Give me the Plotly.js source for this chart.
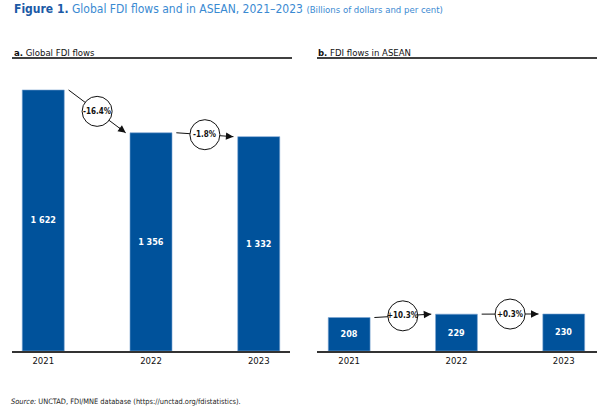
<!DOCTYPE html>
<html>
<head>
<meta charset="utf-8">
<script src="https://cdn.plot.ly/plotly-3.0.1.min.js"></script>
<style>
html,body{margin:0;padding:0;background:#fff;}
#chart{width:605px;height:410px;}
</style>
</head>
<body>
<div id="chart"></div>
<script>
// ---- data ----
var years = ['2021', '2022', '2023'];
var globalFDI = [1622, 1356, 1332];
var aseanFDI = [208, 229, 230];
var globalLabels = ['1 622', '1 356', '1 332'];
var aseanLabels = ['208', '229', '230'];
var globalChange = ['-16.4%', '-1.8%'];
var aseanChange = ['+10.3%', '+0.3%'];

var FONT = '"DejaVu Sans Condensed", "Liberation Sans Narrow", sans-serif';
var BLUE = '#00529b';
var W = 605, H = 410, T = 70, B = 59;
var YMAX = 1746;

function barTrace(vals, labels, xa, ya) {
  return {
    type: 'bar', x: years, y: vals, xaxis: xa, yaxis: ya,
    width: 0.39,
    marker: {color: BLUE, line: {color: '#7ea6d3', width: 0.6}},
    text: labels, textposition: 'inside', insidetextanchor: 'middle',
    textfont: {family: FONT, size: 9, color: '#ffffff', weight: 'bold'},
    hoverinfo: 'skip', showlegend: false, cliponaxis: false
  };
}

var shapes = [], annotations = [];

function addChanges(vals, changes, xr, yr) {
  for (var i = 0; i < changes.length; i++) {
    var x0 = i + 0.235, y0 = vals[i];
    var x1 = i + 1 - 0.235, y1 = vals[i + 1];
    var xm = i + 0.5, ym = (vals[i] + vals[i + 1]) / 2;
    shapes.push({type: 'line', xref: xr, yref: yr, x0: x0, y0: y0, x1: x1, y1: y1,
      line: {color: '#111', width: 1}});
    shapes.push({type: 'circle', xref: xr, yref: yr, xsizemode: 'pixel', ysizemode: 'pixel',
      xanchor: xm, yanchor: ym, x0: -15, x1: 15, y0: -15, y1: 15,
      fillcolor: '#ffffff', line: {color: '#111', width: 1}});
    annotations.push({xref: xr, yref: yr, x: xm, y: ym, text: changes[i], showarrow: false,
      font: {family: FONT, size: 8, color: '#111', weight: 'bold'}});
    var t = 0.86;
    annotations.push({xref: xr, yref: yr, x: x1, y: y1,
      axref: xr, ayref: yr, ax: x0 + (x1 - x0) * t, ay: y0 + (y1 - y0) * t,
      text: '', showarrow: true, arrowhead: 2, arrowsize: 1.5, arrowwidth: 1, arrowcolor: '#111'});
  }
}
addChanges(globalFDI, globalChange, 'x', 'y');
addChanges(aseanFDI, aseanChange, 'x2', 'y2');

// panel underlines
var plotH = H - T - B;
function py(pix) { return (H - B - pix) / plotH; }
shapes.push({type: 'line', xref: 'paper', yref: 'paper', x0: 12 / W, x1: 292 / W, y0: py(58), y1: py(58), line: {color: '#000', width: 1.5}});
shapes.push({type: 'line', xref: 'paper', yref: 'paper', x0: 317 / W, x1: 597 / W, y0: py(58), y1: py(58), line: {color: '#000', width: 1.5}});

// titles
annotations.push({xref: 'paper', yref: 'paper', x: 12 / W, y: py(9.5), xanchor: 'left', yanchor: 'middle', showarrow: false,
  text: '<b><span style="color:#1b5aa6">Figure 1.</span></b> Global FDI flows and in ASEAN, 2021\u20132023 <span style="font-size:9.5px">(Billions of dollars and per cent)</span>',
  font: {family: FONT, size: 12, color: '#3a8ad2'}});
annotations.push({xref: 'paper', yref: 'paper', x: 12 / W, y: py(52), xanchor: 'left', yanchor: 'middle', showarrow: false,
  text: '<b>a.</b> Global FDI flows', font: {family: FONT, size: 9.5, color: '#111'}});
annotations.push({xref: 'paper', yref: 'paper', x: 316 / W, y: py(52), xanchor: 'left', yanchor: 'middle', showarrow: false,
  text: '<b>b.</b> FDI flows in ASEAN', font: {family: FONT, size: 9.5, color: '#111'}});
annotations.push({xref: 'paper', yref: 'paper', x: 9 / W, y: py(401.5), xanchor: 'left', yanchor: 'middle', showarrow: false,
  text: '<i>Source:</i> UNCTAD, FDI/MNE database (https://unctad.org/fdistatistics).', font: {family: FONT, size: 7.4, color: '#222'}});

var xaxisBase = {type: 'category', showgrid: false, zeroline: false, showline: true, linecolor: '#333', linewidth: 1.5,
  ticks: '', tickfont: {family: FONT, size: 9.5, color: '#111'}, fixedrange: true};
var yaxisBase = {range: [0, YMAX], visible: false, showgrid: false, zeroline: false, fixedrange: true};

var layout = {
  width: W, height: H,
  margin: {l: 0, r: 0, t: T, b: B, pad: 0},
  paper_bgcolor: '#fff', plot_bgcolor: '#fff',
  xaxis: Object.assign({}, xaxisBase, {domain: [12 / W, 290 / W], range: [-0.29, 2.29], anchor: 'y'}),
  yaxis: Object.assign({}, yaxisBase, {anchor: 'x'}),
  xaxis2: Object.assign({}, xaxisBase, {domain: [317 / W, 597 / W], range: [-0.3, 2.31], anchor: 'y2'}),
  yaxis2: Object.assign({}, yaxisBase, {anchor: 'x2'}),
  shapes: shapes, annotations: annotations,
  showlegend: false, bargap: 0
};

Plotly.newPlot('chart', [barTrace(globalFDI, globalLabels, 'x', 'y'), barTrace(aseanFDI, aseanLabels, 'x2', 'y2')], layout,
  {displayModeBar: false, staticPlot: true});
</script>
</body>
</html>
